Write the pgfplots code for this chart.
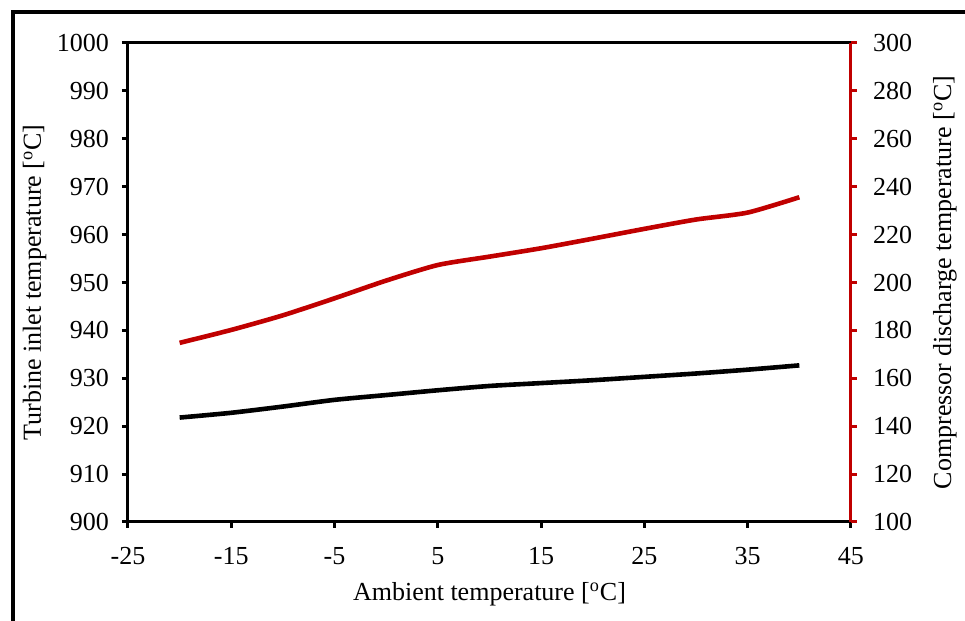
\documentclass[border=0pt]{standalone}
\usepackage{pgfplots}
\pgfplotsset{compat=1.18}
\usepackage{fontspec}
\setmainfont{Liberation Serif}
\definecolor{darkred}{RGB}{192,0,0}

\begin{document}
\begin{tikzpicture}[font=\fontsize{13}{15}\selectfont]
\path[use as bounding box] (0,0) rectangle (482.5pt,310.5pt);
\draw[line width=2pt] (6.5pt,0) -- (6.5pt,304.5pt) -- (482.5pt,304.5pt);

% left axis: turbine inlet temperature
\begin{axis}[
    at={(64pt,49.5pt)}, anchor=south west,
    scale only axis,
    width=361.5pt, height=239.5pt,
    xmin=-25, xmax=45, ymin=900, ymax=1000,
    xtick={-25,-15,...,45},
    ytick={900,910,...,1000},
    xtick pos=bottom, ytick pos=left,
    tick align=outside,
    major tick length=3pt,
    tick style={line width=1.5pt, black},
    axis line style={line width=1.5pt},
    /pgf/number format/assume math mode=true,
    /pgf/number format/1000 sep={},
    xticklabel style={yshift=-6pt},
    yticklabel style={xshift=-3pt},
    xlabel={Ambient temperature [\textsuperscript{o}C]},
    ylabel={Turbine inlet temperature [\textsuperscript{o}C]},
    xlabel style={at={(axis description cs:0.5,-0.150)}, anchor=center},
    ylabel style={at={(axis description cs:-0.129,0.5)}, anchor=center},
]
\addplot[black, line width=2.3pt, smooth, tension=0.4] coordinates {
    (-20,921.8) (-15,922.8) (-10,924.1) (-5,925.5) (0,926.5) (5,927.5)
    (10,928.4) (15,929.0) (20,929.6) (25,930.3) (30,931.0) (35,931.8) (40,932.7)};
\end{axis}

% right axis: compressor discharge temperature
\begin{axis}[
    at={(64pt,49.5pt)}, anchor=south west,
    scale only axis,
    width=361.5pt, height=239.5pt,
    xmin=-25, xmax=45, ymin=100, ymax=300,
    ytick={100,120,...,300},
    axis x line=none,
    axis y line*=right,
    tick align=outside,
    major tick length=3pt,
    tick style={line width=1.5pt, darkred},
    y axis line style={line width=1.5pt, darkred, -},
    /pgf/number format/assume math mode=true,
    yticklabel style={xshift=4.5pt, black},
    ylabel={Compressor discharge temperature [\textsuperscript{o}C]},
    ylabel style={at={(axis description cs:1.130,0.5)}, anchor=center},
]
\addplot[darkred, line width=2.3pt, smooth, tension=0.4] coordinates {
    (-20,174.8) (-15,180.2) (-10,186.3) (-5,193.4) (0,200.8) (5,207.3)
    (10,210.8) (15,214.3) (20,218.3) (25,222.4) (30,226.3) (35,229.2) (40,235.6)};
\end{axis}
\end{tikzpicture}
\end{document}
